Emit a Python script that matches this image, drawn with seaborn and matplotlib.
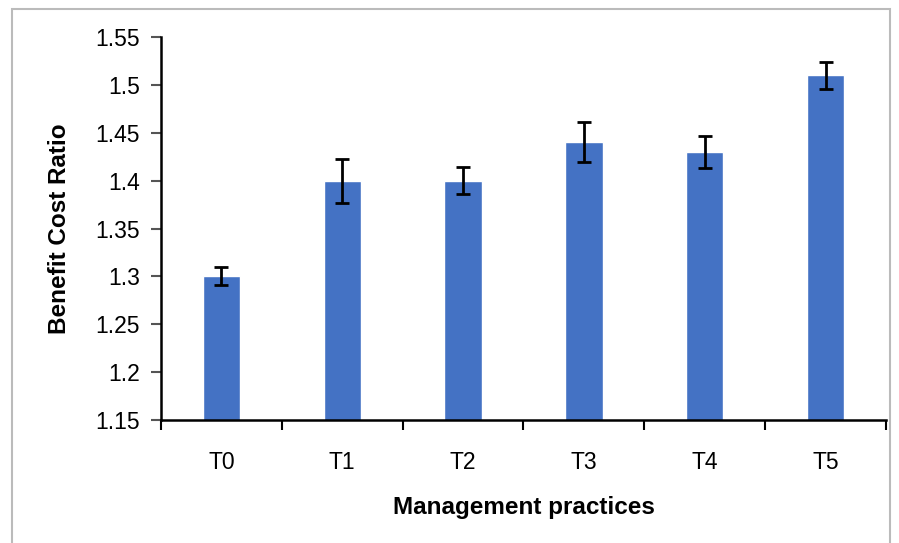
import matplotlib
matplotlib.use("Agg")
from matplotlib import pyplot as plt
from matplotlib.patches import Rectangle
import seaborn as sns
import pandas as pd

treatments = ["T0", "T1", "T2", "T3", "T4", "T5"]
bcr = [1.30, 1.40, 1.40, 1.44, 1.43, 1.51]
bcr_err = [0.0095, 0.023, 0.014, 0.021, 0.017, 0.014]
y_ticks = [1.15, 1.2, 1.25, 1.3, 1.35, 1.4, 1.45, 1.5, 1.55]
y_tick_labels = ["1.15", "1.2", "1.25", "1.3", "1.35", "1.4", "1.45", "1.5", "1.55"]

sns.set_style("white")
plt.rcParams['font.family'] = ['Liberation Sans', 'DejaVu Sans']
plt.rcParams['text.color'] = "black"
plt.rcParams['axes.labelcolor'] = "black"
plt.rcParams['xtick.color'] = "black"
plt.rcParams['ytick.color'] = "black"

df = pd.DataFrame({"treatment": treatments, "bcr": bcr})

fig = plt.figure(figsize=(8.99, 5.43), dpi=100)
ax = fig.add_axes([161 / 899, 1 - 420 / 543, (886 - 161) / 899, (420 - 37) / 543])

sns.barplot(data=df, x="treatment", y="bcr", color="#4472C4", saturation=1,
            width=0.31, ax=ax, errorbar=None)
ax.errorbar(range(len(treatments)), bcr, yerr=bcr_err, fmt="none",
            ecolor="black", elinewidth=2, capsize=5, capthick=2)

ax.set_ylim(1.15, 1.55)
ax.set_xlim(-0.5, len(treatments) - 0.5)
ax.set_yticks(y_ticks)
ax.set_yticklabels(y_tick_labels, fontsize=16.5)
ax.set_xticks(range(len(treatments)))
ax.set_xticklabels(treatments, fontsize=16.5)
ax.set_xticks([i - 0.5 for i in range(len(treatments) + 1)], minor=True)
ax.tick_params(axis="x", which="major", bottom=True, length=0, pad=22)
ax.tick_params(axis="x", which="minor", bottom=True, length=7, width=1.5,
               color="black", direction="out")
ax.tick_params(axis="y", left=True, length=7, width=1.5, color="#555555",
               labelcolor="black", direction="out", pad=8)

for side in ["top", "right"]:
    ax.spines[side].set_visible(False)
for side in ["left", "bottom"]:
    ax.spines[side].set_linewidth(1.8)
    ax.spines[side].set_color("black")

ax.set_xlabel("Management practices", fontsize=17.5, fontweight="bold", labelpad=16)
ax.set_ylabel("Benefit Cost Ratio", fontsize=17.5, fontweight="bold", labelpad=18)

# light outer frame like the source image
fig.patches.append(Rectangle((12 / 899, -0.05), (890 - 12) / 899, 1 - 9 / 543 + 0.05,
                             transform=fig.transFigure, fill=False,
                             edgecolor="#bbbbbb", linewidth=1.5))

fig.savefig("out.png", dpi=100)
